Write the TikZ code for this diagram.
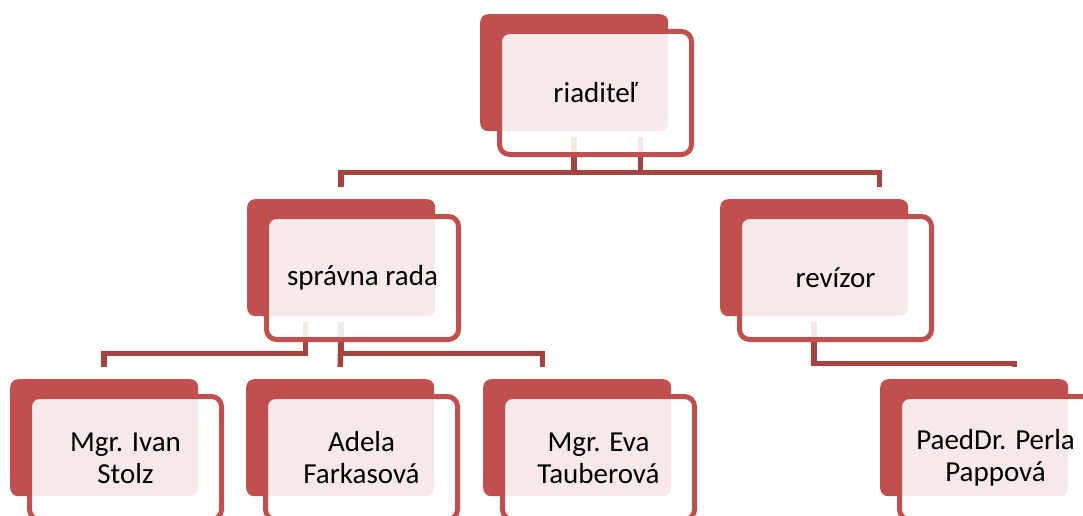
\documentclass[tikz,border=0pt]{standalone}
\usepackage{fontspec}
\setmainfont{Carlito}
\definecolor{acc}{RGB}{192,80,77}
\definecolor{conn}{RGB}{165,67,64}
\tikzset{
  backbox/.style={fill=acc, draw=none, rounded corners=8pt, inner sep=0pt,
    minimum width=188pt, minimum height=117pt, anchor=north west},
  frontbox/.style={draw=acc, line width=5pt, fill=white, fill opacity=0.88,
    draw opacity=1, text opacity=1, rounded corners=10pt, inner sep=0pt,
    minimum width=192pt, minimum height=123pt, text=black, align=center,
    font=\fontsize{29}{32}\selectfont},
  link/.style={draw=conn, line width=5.5pt},
}
\begin{document}
\begin{tikzpicture}[x=1pt,y=-1pt]
\useasboundingbox (0,0) rectangle (1083,516);
\fill[white] (0,0) rectangle (1083,516);
\clip (0,0) rectangle (1083,516);
% back boxes
\node[backbox] (rB) at (480,14) {};
\node[backbox] (sB) at (247,199) {};
\node[backbox] (vB) at (720,199) {};
\node[backbox] (iB) at (10,379) {};
\node[backbox] (aB) at (246,379) {};
\node[backbox] (eB) at (483,379) {};
\node[backbox] (pB) at (880,379) {};
% connectors
\draw[link] ([xshift=66.5pt,yshift=-6pt]rB.south) -- ++(0,35) -| ([yshift=12pt]sB.north);
\draw[link] ([yshift=-6pt]rB.south) -- ++(0,35) -| ([xshift=65.5pt,yshift=12pt]vB.north);
\draw[link] ([xshift=-35.5pt,yshift=-6pt]sB.south) -- ++(0,31) -| ([yshift=12pt]iB.north);
\draw[link] ([yshift=-6pt]sB.south) -- ([yshift=12pt]aB.north);
\draw[link] ([yshift=-6pt]sB.south) -- ++(0,31) -| ([xshift=-34.5pt,yshift=12pt]eB.north);
\draw[link] ([yshift=-6pt]vB.south) -- ++(0,41) -| ([xshift=40.5pt,yshift=12pt]pB.north);
% front boxes with text
\node[frontbox] (r) at (595.5,93) {riaditeľ};
\node[frontbox] (s) at (362.5,278) {správna rada};
\node[frontbox] (v) at (835.5,278) {revízor};
\node[frontbox] (i) at (125.5,458) {Mgr. Ivan\\Stolz};
\node[frontbox] (a) at (361.5,458) {Adela\\Farkasová};
\node[frontbox] (e) at (598.5,458) {Mgr. Eva\\Tauberová};
\node[frontbox] (p) at (995.5,458) {PaedDr. Perla\\Pappová};
\end{tikzpicture}
\end{document}
